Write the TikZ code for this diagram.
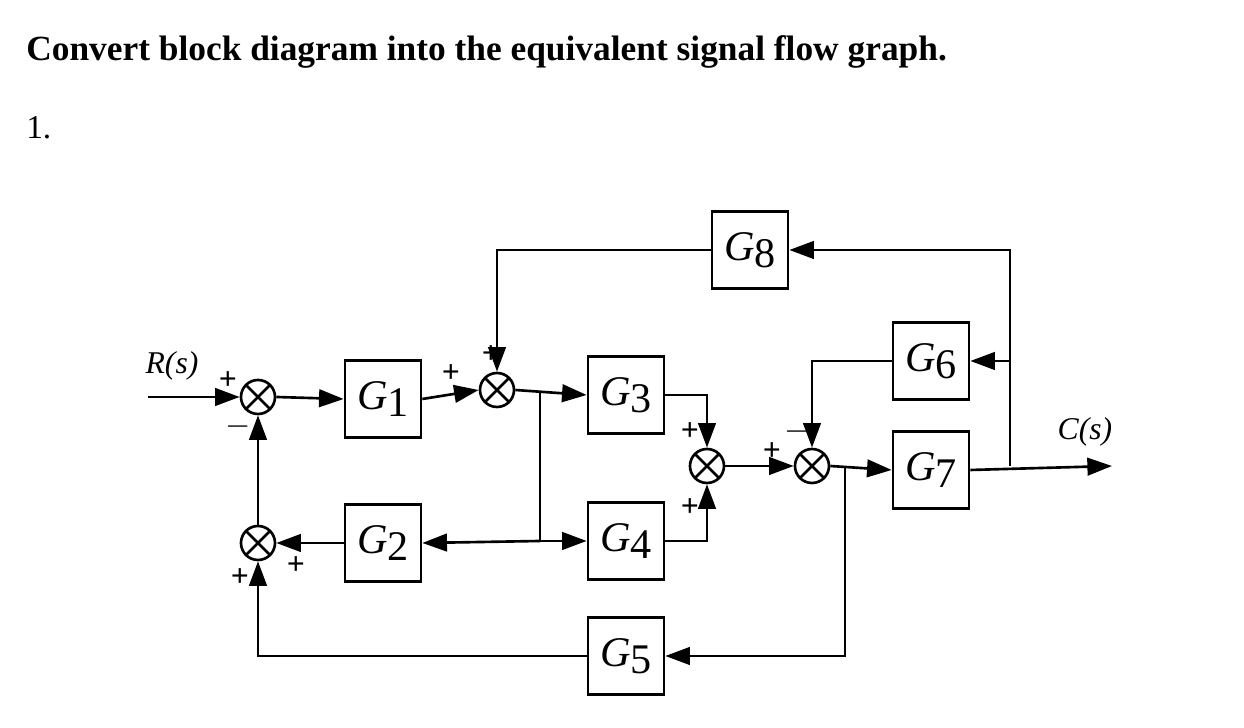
\documentclass[tikz,border=0pt]{standalone}
\usepackage{fontspec}
\setmainfont{Liberation Serif}
\usetikzlibrary{arrows.meta}
\begin{document}
\begin{tikzpicture}[x=0.01cm,y=-0.01cm,line width=0.75pt,
  blk/.style={draw,minimum width=0.76cm,minimum height=0.77cm,inner sep=0pt,font=\large},
  sum/.style={draw,circle,minimum size=0.34cm,inner sep=0pt,
    path picture={\draw (path picture bounding box.north west)--(path picture bounding box.south east)
      (path picture bounding box.north east)--(path picture bounding box.south west);}},
  sg/.style={font=\small\bfseries,inner sep=0pt},
  a/.style={-{Triangle[length=7pt,width=5pt]}}]
\useasboundingbox (0,0) rectangle (1244,728);
\node[anchor=west,inner sep=0pt] (title) at (25,52) {\resizebox{9.2cm}{!}{\bfseries Convert block diagram into the equivalent signal flow graph.}};
\node[anchor=west,inner sep=0pt] (num) at (25,128) {\resizebox{!}{0.22cm}{1.}};
\newcommand{\gl}[1]{\textit{G}\raisebox{-0.35ex}{#1}}
\node[sum] (s1) at (258,397) {};
\node[sum] (s2) at (497,390) {};
\node[sum] (s3) at (707,466) {};
\node[sum] (s4) at (812,466) {};
\node[sum] (s5) at (258,543) {};
\node[blk] (g1) at (383,399) {\gl1};
\node[blk] (g3) at (626,395) {\gl3};
\node[blk] (g4) at (626,541) {\gl4};
\node[blk] (g2) at (383,543) {\gl2};
\node[blk] (g5) at (626,656) {\gl5};
\node[blk] (g8) at (750,250) {\gl8};
\node[blk] (g6) at (931,361) {\gl6};
\node[blk] (g7) at (931,470) {\gl7};
\coordinate (rin) at (148,397);
\coordinate (cout) at (1112,466);
\coordinate (b1) at (540,393);
\coordinate (b2) at (540,541);
\coordinate (b3) at (845,466);
\coordinate (b4) at (1010,466);
\node[font=\small\itshape,anchor=south] (rl) at (172,393) {R(\textit{s})};
\node[font=\small\itshape,anchor=south] (cl) at (1085,459) {C(\textit{s})};
\draw[a] (rin) -- (s1.west);
\draw[a] (s1.east) -- (g1.west);
\draw[a] (g1.east) -- (s2.west);
\draw[a] (s2.east) -- (g3.west);
\draw[a] (g3.east) -| (s3.north);
\draw (b1) -- (b2);
\draw[a] (b2) -- (g4.west);
\draw[a] (b2) -- (g2.east);
\draw[a] (g4.east) -| (s3.south);
\draw[a] (g2.west) -- (s5.east);
\draw[a] (s5.north) -- (s1.south);
\draw[a] (s3.east) -- (s4.west);
\draw[a] (s4.east) -- (g7.west);
\draw[a] (g7.east) -- (cout);
\draw[a] (b4) |- (g8.east);
\draw[a] (b4 |- g6) -- (g6.east);
\draw[a] (g8.west) -| (s2.north);
\draw[a] (g6.west) -| (s4.north);
\draw[a] (b3) |- (g5.east);
\draw[a] (g5.west) -| (s5.south);
\node[sg] at (228,381) {+};
\node[sg] at (238,427) {$-$};
\node[sg] at (451,374) {+};
\node[sg] at (491,355) {+};
\node[sg] at (690,432) {+};
\node[sg] at (690,508) {+};
\node[sg] at (772,452) {+};
\node[sg] at (797,432) {$-$};
\node[sg] at (296,566) {+};
\node[sg] at (240,578) {+};
\end{tikzpicture}
\end{document}
